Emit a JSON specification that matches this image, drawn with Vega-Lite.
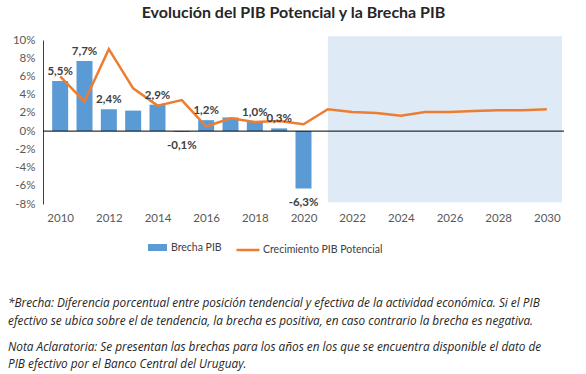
{
  "$schema": "https://vega.github.io/schema/vega-lite/v6.json",
  "padding": {"left": 8, "top": 5, "right": 5, "bottom": 5},
  "title": {"text": "Evolución del PIB Potencial y la Brecha PIB", "fontSize": 16, "font": "Lato", "fontWeight": "bold", "color": "#262626", "anchor": "middle", "frame": "group", "offset": 13, "dx": -10},
  "spacing": 42,
  "resolve": {"legend": {"fill": "independent", "stroke": "independent"}, "scale": {"fill": "independent", "stroke": "independent"}},
  "config": {"view": {"stroke": null}, "font": "Lato", "axisY": {"labelOverlap": false, "labelBound": false}, "axisX": {"labelOverlap": false}},
  "data": {"values": [
    {"year": 2010, "brecha": 5.5, "potencial": 6.0, "label": "5,5%"},
    {"year": 2011, "brecha": 7.7, "potencial": 3.25, "label": "7,7%"},
    {"year": 2012, "brecha": 2.4, "potencial": 9.0, "label": "2,4%"},
    {"year": 2013, "brecha": 2.25, "potencial": 4.7, "label": null},
    {"year": 2014, "brecha": 2.9, "potencial": 2.8, "label": "2,9%"},
    {"year": 2015, "brecha": -0.1, "potencial": 3.4, "label": "-0,1%"},
    {"year": 2016, "brecha": 1.2, "potencial": 0.5, "label": "1,2%"},
    {"year": 2017, "brecha": 1.5, "potencial": 1.4, "label": null},
    {"year": 2018, "brecha": 1.0, "potencial": 1.0, "label": "1,0%"},
    {"year": 2019, "brecha": 0.3, "potencial": 1.1, "label": "0,3%"},
    {"year": 2020, "brecha": -6.3, "potencial": 0.75, "label": "-6,3%"},
    {"year": 2021, "brecha": null, "potencial": 2.4, "label": null},
    {"year": 2022, "brecha": null, "potencial": 2.1, "label": null},
    {"year": 2023, "brecha": null, "potencial": 2.0, "label": null},
    {"year": 2024, "brecha": null, "potencial": 1.7, "label": null},
    {"year": 2025, "brecha": null, "potencial": 2.1, "label": null},
    {"year": 2026, "brecha": null, "potencial": 2.1, "label": null},
    {"year": 2027, "brecha": null, "potencial": 2.2, "label": null},
    {"year": 2028, "brecha": null, "potencial": 2.3, "label": null},
    {"year": 2029, "brecha": null, "potencial": 2.3, "label": null},
    {"year": 2030, "brecha": null, "potencial": 2.4, "label": null}
  ]},
  "vconcat": [
    {
      "width": 521,
      "height": 164,
      "layer": [
        {
          "data": {"values": [{}]},
          "mark": {"type": "rect", "color": "#DEEAF6"},
          "encoding": {
            "x": {"datum": 2021, "type": "quantitative", "scale": {"domain": [2009.5, 2030.5], "nice": false, "zero": false},
              "axis": {"values": [2010, 2012, 2014, 2016, 2018, 2020, 2022, 2024, 2026, 2028, 2030], "tickCount": 30, "format": "d", "ticks": false, "domain": false, "grid": false, "labelPadding": 8, "title": null, "labelColor": "#595959", "labelFontSize": 11.5, "labelFont": "Lato", "labelOverlap": false}},
            "x2": {"datum": 2030.62},
            "y": {"datum": 10.4, "type": "quantitative", "scale": {"domain": [-8, 10], "nice": false},
              "axis": {"values": [-8, -6, -4, -2, 0, 2, 4, 6, 8, 10], "tickCount": 30, "labelExpr": "datum.value + '%'", "grid": false, "ticks": false, "domain": true, "domainColor": "#404040", "labelPadding": 8, "title": null, "labelColor": "#595959", "labelFontSize": 11.5, "labelFont": "Lato", "labelOverlap": false}},
            "y2": {"datum": -7.8}
          }
        },
        {
          "transform": [{"filter": "datum.brecha != null"}],
          "mark": {"type": "bar", "size": 16},
          "encoding": {
            "x": {"field": "year", "type": "quantitative"},
            "y": {"field": "brecha", "type": "quantitative"},
            "fill": {"datum": "Brecha PIB", "type": "nominal", "scale": {"range": ["#5B9BD5"]},
              "legend": {"title": null, "orient": "none", "legendX": 104, "legendY": 197, "symbolType": "M-1,-0.37H1V0.37H-1Z", "symbolSize": 361, "labelOffset": 3, "labelFontSize": 10.5, "labelColor": "#404040", "labelFont": "Lato"}}
          }
        },
        {
          "data": {"values": [{}]},
          "mark": {"type": "rule", "color": "#000000", "strokeWidth": 1},
          "encoding": {"y": {"datum": 0, "type": "quantitative"}}
        },
        {
          "mark": {"type": "line", "strokeWidth": 2.5},
          "encoding": {
            "x": {"field": "year", "type": "quantitative"},
            "y": {"field": "potencial", "type": "quantitative"},
            "stroke": {"datum": "Crecimiento PIB Potencial", "type": "nominal", "scale": {"range": ["#ED7D31"]},
              "legend": {"title": null, "orient": "none", "legendX": 192, "legendY": 197, "symbolType": "stroke", "symbolSize": 529, "symbolStrokeWidth": 2.5, "labelOffset": 2, "labelFontSize": 10.5, "labelColor": "#404040", "labelFont": "Lato"}}
          }
        },
        {
          "transform": [{"filter": "datum.label != null && datum.brecha >= 0"}],
          "mark": {"type": "text", "baseline": "bottom", "dy": -4, "fontWeight": "bold", "fontSize": 11.5, "color": "#404040", "font": "Lato"},
          "encoding": {
            "x": {"field": "year", "type": "quantitative"},
            "y": {"field": "brecha", "type": "quantitative"},
            "text": {"field": "label"}
          }
        },
        {
          "transform": [{"filter": "datum.label != null && datum.brecha < 0"}],
          "mark": {"type": "text", "baseline": "top", "dy": 8, "fontWeight": "bold", "fontSize": 11.5, "color": "#404040", "font": "Lato"},
          "encoding": {
            "x": {"field": "year", "type": "quantitative"},
            "y": {"field": "brecha", "type": "quantitative"},
            "text": {"field": "label"}
          }
        }
      ]
    },
    {
      "width": 521,
      "height": 0,
      "data": {"values": []},
      "mark": "point",
      "title": {
        "text": ["*Brecha: Diferencia porcentual entre posición tendencial y efectiva de la actividad económica. Si el PIB", "efectivo se ubica sobre el de tendencia, la brecha es positiva, en caso contrario la brecha es negativa."],
        "subtitle": ["Nota Aclaratoria: Se presentan las brechas para los años en los que se encuentra disponible el dato de", "PIB efectivo por el Banco Central del Uruguay."],
        "orient": "top",
        "anchor": "start",
        "frame": "group",
        "dx": -35,
        "offset": 0,
        "font": "Open Sans",
        "fontSize": 11.8,
        "fontStyle": "italic",
        "fontWeight": "normal",
        "color": "#262626",
        "lineHeight": 17.5,
        "subtitleFont": "Open Sans",
        "subtitleFontSize": 11.8,
        "subtitleFontStyle": "italic",
        "subtitleColor": "#262626",
        "subtitleLineHeight": 17.5,
        "subtitlePadding": 14
      }
    }
  ]
}
